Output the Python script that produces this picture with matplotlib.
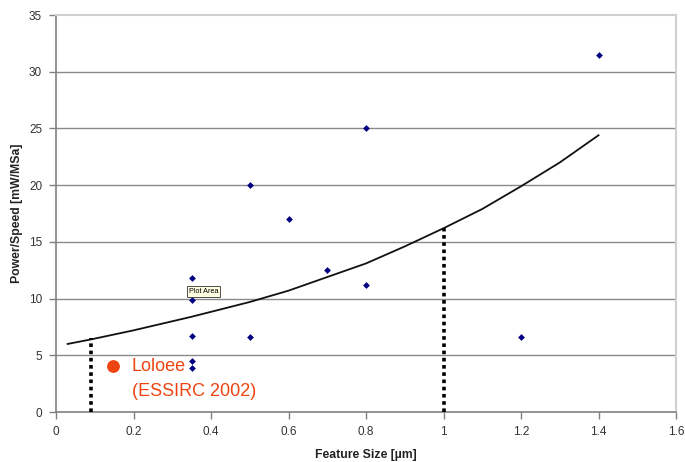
import matplotlib
matplotlib.use("Agg")
import matplotlib.pyplot as plt

plt.rcParams['font.family'] = ['Liberation Sans', 'DejaVu Sans']

# Scatter data (feature size in um, power/speed in mW/MSa)
feature_size = [0.35, 0.35, 0.35, 0.35, 0.35, 0.5, 0.5, 0.6, 0.7, 0.8, 0.8, 1.2, 1.4]
power_speed = [11.8, 9.9, 6.7, 4.5, 3.9, 20.0, 6.6, 17.0, 12.5, 25.0, 11.2, 6.6, 31.5]

# Trend curve
trend_x = [0.03, 0.09, 0.2, 0.35, 0.5, 0.6, 0.7, 0.8, 0.9, 1.0, 1.1, 1.2, 1.3, 1.4]
trend_y = [6.0, 6.4, 7.2, 8.4, 9.7, 10.7, 11.9, 13.1, 14.6, 16.2, 17.9, 19.9, 22.0, 24.4]

# Dotted markers
dotted_x = [0.09, 1.0]
dotted_top = [6.5, 16.2]

# Loloee annotation
loloee_x = [0.148]
loloee_y = [4.05]

x_ticks = [0, 0.2, 0.4, 0.6, 0.8, 1, 1.2, 1.4, 1.6]
x_labels = ['0', '0.2', '0.4', '0.6', '0.8', '1', '1.2', '1.4', '1.6']
y_ticks = [0, 5, 10, 15, 20, 25, 30, 35]

fig = plt.figure(figsize=(6.85, 4.62), dpi=100)
ax = fig.add_axes([0.0818, 0.1082, 0.9051, 0.8593])
ax.set_xlim(0, 1.6)
ax.set_ylim(0, 35)

for yv in y_ticks[1:-1]:
    ax.axhline(yv, color='#8a8a8a', lw=1.0, zorder=1)

ax.plot(trend_x, trend_y, color='#111111', lw=1.3, zorder=3)

for xv, top in zip(dotted_x, dotted_top):
    ax.plot([xv, xv], [0, top], color='black', lw=2.6, linestyle=(0, (1, 1)), zorder=3)

ax.scatter(feature_size, power_speed, marker='D', s=12, color='#000080', zorder=4, linewidths=0)

ax.scatter(loloee_x, loloee_y, s=85, color='#EE4411', zorder=4, linewidths=0)
ax.text(0.195, 4.05, 'Loloee', color='#EE4411', fontsize=13, va='center', ha='left', zorder=5)
ax.text(0.195, 1.8, '(ESSIRC 2002)', color='#EE4411', fontsize=13, va='center', ha='left', zorder=5)

ax.text(0.343, 10.6, 'Plot Area', fontsize=5.2, va='center', ha='left', color='black', zorder=6,
        bbox=dict(boxstyle='square,pad=0.25', facecolor='#FFFFE1', edgecolor='#333333', lw=0.6))

ax.set_xticks(x_ticks)
ax.set_xticklabels(x_labels)
ax.set_yticks(y_ticks)
ax.tick_params(axis='both', direction='out', length=5, width=1, color='#808080',
               labelsize=8.5, labelcolor='#333333', pad=5)

for side in ['top', 'right']:
    ax.spines[side].set_color('#d0d0d0')
    ax.spines[side].set_linewidth(1.5)
for side in ['left', 'bottom']:
    ax.spines[side].set_color('#808080')
    ax.spines[side].set_linewidth(1.2)

ax.set_xlabel('Feature Size [µm]', fontsize=8.8, fontweight='bold', color='#222222', labelpad=8)
ax.set_ylabel('Power/Speed [mW/MSa]', fontsize=8.8, fontweight='bold', color='#222222', labelpad=4)

fig.savefig('out.png', dpi=100)
